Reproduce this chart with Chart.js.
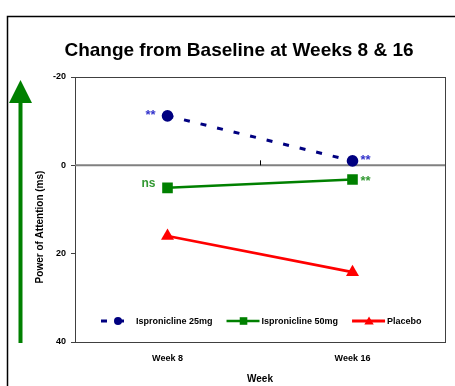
<!DOCTYPE html>
<html><head><meta charset="utf-8">
<script src="https://cdn.jsdelivr.net/npm/chart.js@4"></script>
<style>html,body{margin:0;padding:0;background:#fff}canvas{display:block}</style>
</head><body>
<canvas id="c" width="455" height="386"></canvas>
<script>
// ---- data ----
const categories = ['Week 8', 'Week 16'];
const isp25 = [-11.2, -1.0];
const isp50 = [5.1, 3.2];
const placebo = [16.0, 24.2];
const yTicks = [-20, 0, 20, 40];
const seriesLabels = ['Ispronicline 25mg', 'Ispronicline 50mg', 'Placebo'];
const chartTitle = 'Change from Baseline at Weeks 8 & 16';
const yTitle = 'Power of Attention (ms)';
const xTitle = 'Week';
const annoSeries = [0, 0, 1, 1];
const annoIndex = [0, 1, 0, 1];
const annoText = ['**', '**', 'ns', '**'];

// ---- styles ----
const FONT = '"Liberation Sans", Arial, Helvetica, sans-serif';
Chart.defaults.font.family = FONT;
const annoStyle = [
  {color:'#3333CC', side:'left', dx:-12, dy:0, size:13},
  {color:'#3333CC', side:'right', dx:8, dy:-0.5, size:13},
  {color:'#339933', side:'left', dx:-12, dy:-4.4, size:12},
  {color:'#339933', side:'right', dx:8, dy:1.6, size:13}
];

function drawMarker(ctx, style, x, y, r, color) {
  ctx.save();
  ctx.fillStyle = color;
  ctx.beginPath();
  if (style === 'circle') {
    ctx.arc(x, y, r, 0, Math.PI * 2);
  } else if (style === 'rect') {
    ctx.rect(x - r, y - r, 2 * r, 2 * r);
  } else {
    ctx.moveTo(x, y - r);
    ctx.lineTo(x + r * 1.05, y + r * 0.8);
    ctx.lineTo(x - r * 1.05, y + r * 0.8);
    ctx.closePath();
  }
  ctx.fill();
  ctx.restore();
}

const decor = {
  id: 'decor',
  beforeDraw(chart) {
    const ctx = chart.ctx;
    ctx.save();
    ctx.fillStyle = '#fff';
    ctx.fillRect(0, 0, chart.width, chart.height);
    // outer frame
    ctx.strokeStyle = '#000';
    ctx.lineWidth = 1.5;
    ctx.beginPath();
    ctx.moveTo(7.5, chart.height);
    ctx.lineTo(7.5, 16.5);
    ctx.lineTo(chart.width, 16.5);
    ctx.stroke();
    // green arrow
    const a = chart.chartArea;
    ctx.fillStyle = '#008000';
    ctx.fillRect(18.5, 102, 4, a.bottom + 1 - 102);
    ctx.beginPath();
    ctx.moveTo(20.5, 80);
    ctx.lineTo(32, 103);
    ctx.lineTo(9, 103);
    ctx.closePath();
    ctx.fill();
    ctx.restore();
  },
  beforeDatasetsDraw(chart) {
    const ctx = chart.ctx, a = chart.chartArea;
    const ys = chart.scales.y, xs = chart.scales.x;
    ctx.save();
    // plot frame
    ctx.strokeStyle = '#404040';
    ctx.lineWidth = 1;
    ctx.strokeRect(Math.round(a.left) + 0.5, Math.round(a.top) + 0.5, Math.round(a.right - a.left), Math.round(a.bottom - a.top));
    // zero line (category axis crossing)
    const y0 = ys.getPixelForValue(0);
    ctx.strokeStyle = '#808080';
    ctx.lineWidth = 2;
    ctx.beginPath();
    ctx.moveTo(a.left, y0);
    ctx.lineTo(a.right, y0);
    ctx.stroke();
    // tick between categories
    const xm = (xs.getPixelForValue(0) + xs.getPixelForValue(1)) / 2;
    ctx.strokeStyle = '#000';
    ctx.lineWidth = 1;
    ctx.beginPath();
    ctx.moveTo(Math.round(xm) + 0.5, y0 - 5);
    ctx.lineTo(Math.round(xm) + 0.5, y0);
    ctx.stroke();
    ctx.restore();
  },
  afterDatasetsDraw(chart) {
    const ctx = chart.ctx, a = chart.chartArea;
    ctx.save();
    // annotations
    for (let i = 0; i < annoText.length; i++) {
      const pt = chart.getDatasetMeta(annoSeries[i]).data[annoIndex[i]];
      const st = annoStyle[i];
      ctx.font = 'bold ' + st.size + 'px ' + FONT;
      ctx.fillStyle = st.color;
      ctx.textBaseline = 'middle';
      ctx.textAlign = st.side === 'left' ? 'right' : 'left';
      ctx.fillText(annoText[i], pt.x + st.dx, pt.y + st.dy);
    }
    // legend
    const ly = a.bottom - 21;
    let x = 101;
    ctx.font = 'bold 9px ' + FONT;
    ctx.textBaseline = 'middle';
    ctx.textAlign = 'left';
    chart.data.datasets.forEach((ds) => {
      ctx.save();
      ctx.strokeStyle = ds.borderColor;
      ctx.lineWidth = ds.borderWidth;
      ctx.setLineDash(ds.borderDash || []);
      ctx.beginPath();
      ctx.moveTo(x, ly);
      ctx.lineTo(x + 33, ly);
      ctx.stroke();
      ctx.restore();
      const r = ds.pointStyle === 'circle' ? 4 : (ds.pointStyle === 'rect' ? 3.8 : 4.5);
      drawMarker(ctx, ds.pointStyle, x + 17, ly, r, ds.borderColor);
      ctx.fillStyle = '#000';
      ctx.fillText(ds.label, x + 35, ly + 0.5);
      x += 35 + ctx.measureText(ds.label).width + 14;
    });
    // title
    ctx.font = 'bold 19px ' + FONT;
    ctx.textAlign = 'center';
    ctx.fillStyle = '#000';
    ctx.fillText(chartTitle, 239, 51);
    // y axis title
    ctx.translate(40, 227);
    ctx.rotate(-Math.PI / 2);
    ctx.font = 'bold 10px ' + FONT;
    ctx.fillText(yTitle, 0, 0);
    ctx.restore();
  }
};

new Chart(document.getElementById('c'), {
  type: 'line',
  data: {
    labels: categories,
    datasets: [
      {label: seriesLabels[0], data: isp25, borderColor: '#000080', backgroundColor: '#000080',
       borderWidth: 3, borderDash: [6, 11], pointStyle: 'circle', pointRadius: 5.8,
       pointBackgroundColor: '#000080', pointBorderColor: '#000080', pointBorderWidth: 0, fill: false, tension: 0},
      {label: seriesLabels[1], data: isp50, borderColor: '#008000', backgroundColor: '#008000',
       borderWidth: 2.5, pointStyle: 'rect', pointRadius: 7.5,
       pointBackgroundColor: '#008000', pointBorderColor: '#008000', pointBorderWidth: 0, fill: false, tension: 0},
      {label: seriesLabels[2], data: placebo, borderColor: '#FF0000', backgroundColor: '#FF0000',
       borderWidth: 2.8, pointStyle: 'triangle', pointRadius: 7.5,
       pointBackgroundColor: '#FF0000', pointBorderColor: '#FF0000', pointBorderWidth: 0, fill: false, tension: 0}
    ]
  },
  options: {
    responsive: false,
    animation: false,
    devicePixelRatio: 1,
    layout: {padding: {top: 77, right: 10, left: 0, bottom: 0}},
    plugins: {legend: {display: false}, title: {display: false}, tooltip: {enabled: false}},
    scales: {
      x: {
        type: 'category', offset: true,
        grid: {display: false, drawTicks: false},
        border: {display: false},
        ticks: {font: {size: 9, weight: 'bold'}, color: '#000', padding: 11, maxRotation: 0},
        title: {display: true, text: xTitle, font: {size: 10, weight: 'bold'}, color: '#000', padding: {top: 0, bottom: 1}},
        afterFit: (s) => { s.height = 44; }
      },
      y: {
        reverse: true, min: yTicks[0], max: yTicks[yTicks.length - 1],
        afterBuildTicks: (s) => { s.ticks = yTicks.map(v => ({value: v})); },
        ticks: {font: {size: 9, weight: 'bold'}, color: '#000', padding: 5},
        grid: {drawOnChartArea: false, tickLength: 4, color: '#404040'},
        border: {display: false},
        afterFit: (s) => { s.width = 75; }
      }
    }
  },
  plugins: [decor]
});
</script>
</body></html>
